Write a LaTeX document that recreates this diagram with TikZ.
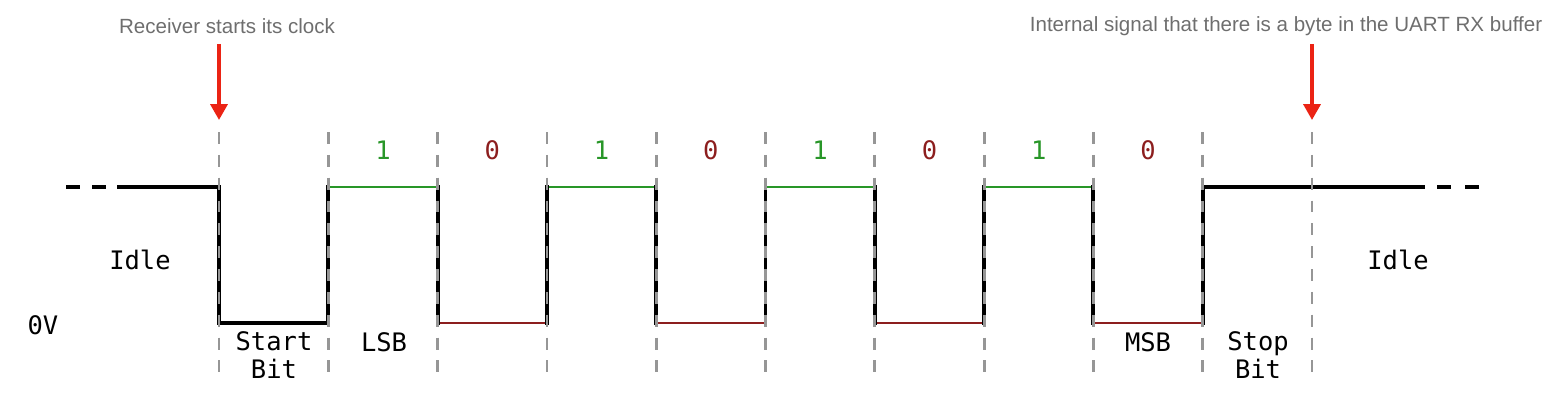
\documentclass[tikz,border=0pt]{standalone}
\usepackage{fontspec}
\setmainfont{Liberation Sans}
\newfontfamily\monofont{DejaVu Sans Mono}
\usepackage{tikz}
\usetikzlibrary{positioning,arrows.meta}

\definecolor{bitone}{RGB}{40,150,40}
\definecolor{bitzero}{RGB}{140,30,30}
\definecolor{marker}{RGB}{235,35,20}
\definecolor{notegray}{RGB}{110,110,110}
\definecolor{gridgray}{RGB}{150,150,150}

\tikzset{
  sig/.style={line width=2.2pt, line cap=rect, line join=miter},
  highbit/.style={line width=1.7pt, bitone},
  lowbit/.style={line width=1.7pt, bitzero},
  slot/.style={line width=1.6pt, gridgray, dash pattern=on 6.8pt off 6.2pt},
  note/.style={text=notegray, font=\fontsize{11.7}{14}\selectfont, inner sep=0pt},
  mono/.style={font=\monofont\fontsize{14.5}{16}\selectfont, inner sep=0pt, align=center},
  marker arrow/.style={line width=2pt, marker, -{Triangle[length=9pt,width=9.6pt]}}
}

\begin{document}
\begin{tikzpicture}[x=0.02cm, y=-0.02cm]
    \useasboundingbox (0,0) rectangle (1550,412);

    % bit boundaries
    \foreach \i in {0,...,10} {
        \coordinate (hi\i) at (219+109.3*\i,187);
        \coordinate (lo\i) at (219+109.3*\i,323);
        \coordinate (top\i) at (219+109.3*\i,132);
        \coordinate (bot\i) at (219+109.3*\i,378);
    }
    \coordinate (dashL) at (66,187);
    \coordinate (idleL) at (119,187);
    \coordinate (idleR) at (1423,187);
    \coordinate (dashR) at (1479,187);

    % notes and arrows
    \node[note] (rxstart) at (227,26) {Receiver starts its clock};
    \node[note] (rxbyte) at (1286,26) {Internal signal that there is a byte in the UART RX buffer};
    \coordinate (arrL) at (219,44);
    \coordinate (tipL) at (219,120);
    \coordinate (arrR) at (1312,44);
    \coordinate (tipR) at (1312,120);
    \draw[marker arrow] (arrL) -- (tipL);
    \draw[marker arrow] (arrR) -- (tipR);

    % data bits
    \draw[highbit] (hi1) -- (hi2);
    \draw[lowbit] (lo2) -- (lo3);
    \draw[highbit] (hi3) -- (hi4);
    \draw[lowbit] (lo4) -- (lo5);
    \draw[highbit] (hi5) -- (hi6);
    \draw[lowbit] (lo6) -- (lo7);
    \draw[highbit] (hi7) -- (hi8);
    \draw[lowbit] (lo8) -- (lo9);

    % idle, start, stop and edges
    \draw[sig, line cap=butt, dash pattern=on 7.9pt off 7.1pt] (dashL) -- (idleL);
    \draw[sig] (idleL) -- (hi0) -- (lo0) -- (lo1) -- (hi1);
    \draw[sig] (hi2) -- (lo2);
    \draw[sig] (lo3) -- (hi3);
    \draw[sig] (hi4) -- (lo4);
    \draw[sig] (lo5) -- (hi5);
    \draw[sig] (hi6) -- (lo6);
    \draw[sig] (lo7) -- (hi7);
    \draw[sig] (hi8) -- (lo8);
    \draw[sig] (lo9) -- (hi9) -- (idleR);
    \draw[sig, line cap=butt, dash pattern=on 7.9pt off 8.2pt] (dashR) -- (idleR);

    % slot lines
    \foreach \i in {0,...,10}
        \draw[slot] (top\i) -- (bot\i);

    % labels
    \foreach \b/\c [count=\i] in {1/bitone,0/bitzero,1/bitone,0/bitzero,1/bitone,0/bitzero,1/bitone,0/bitzero}
        \node[mono, text=\c] (bit\i) at (219+109.3*\i+54.65,150) {\b};
    \node[mono] (idleleft) at (140,260) {Idle};
    \node[mono] (idleright) at (1398,260) {Idle};
    \node[mono] (zerovolt) at (43,325) {0V};
    \node[mono] (startbit) at (274,355) {Start\\Bit};
    \node[mono] (lsb) at (384,342) {LSB};
    \node[mono] (msb) at (1148,342) {MSB};
    \node[mono] (stopbit) at (1258,355) {Stop\\Bit};

\end{tikzpicture}
\end{document}
